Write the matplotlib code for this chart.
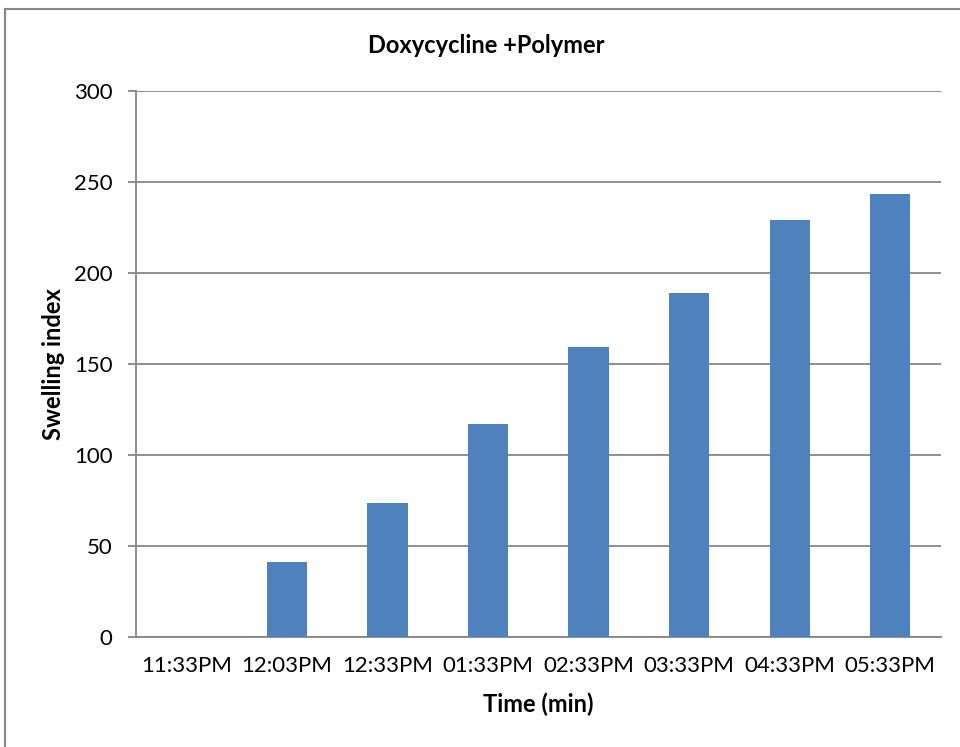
import matplotlib.pyplot as plt
from matplotlib.lines import Line2D

# chart data
times = ['11:33PM', '12:03PM', '12:33PM', '01:33PM', '02:33PM',
         '03:33PM', '04:33PM', '05:33PM']
swelling = [0, 40.8, 73.5, 116.9, 159.0, 188.7, 229.0, 243.2]
y_ticks = [0, 50, 100, 150, 200, 250, 300]

plt.rcParams['font.family'] = ['Lato', 'DejaVu Sans']

fig = plt.figure(figsize=(9.6, 7.47), dpi=100)
ax = fig.add_axes([0.1417, 0.1477, 0.8380, 0.7305])

ax.bar(range(len(times)), swelling, width=0.4, color='#4F81BD', zorder=3)

ax.set_xlim(-0.5, len(times) - 0.5)
ax.set_ylim(0, 300)
ax.set_yticks(y_ticks)
ax.set_xticks(range(len(times)))
ax.set_xticklabels(times)

ax.grid(axis='y', color='#868686', linewidth=1.3, zorder=0)
for side in ['top', 'right']:
    ax.spines[side].set_visible(False)
for side in ['left', 'bottom']:
    ax.spines[side].set_color('#868686')
    ax.spines[side].set_linewidth(1.3)

ax.tick_params(axis='y', direction='out', length=6, width=1.3,
               color='#868686', pad=11, labelsize=16)
ax.tick_params(axis='x', length=0, pad=14, labelsize=16)

ax.set_xlabel('Time (min)', fontsize=17, fontweight='bold', labelpad=12)
ax.set_ylabel('Swelling index', fontsize=17, fontweight='bold', labelpad=6)
fig.text(0.507, 0.939, 'Doxycycline +Polymer', fontsize=17,
         fontweight='bold', ha='center', va='center')

# outer chart frame (only top and left edges visible)
fig.add_artist(Line2D([5 / 960, 5 / 960], [0, 1 - 9 / 747],
                      transform=fig.transFigure, color='#868686', linewidth=1.5))
fig.add_artist(Line2D([5 / 960, 1], [1 - 9 / 747, 1 - 9 / 747],
                      transform=fig.transFigure, color='#868686', linewidth=1.5))

fig.savefig('out.png', dpi=100)
